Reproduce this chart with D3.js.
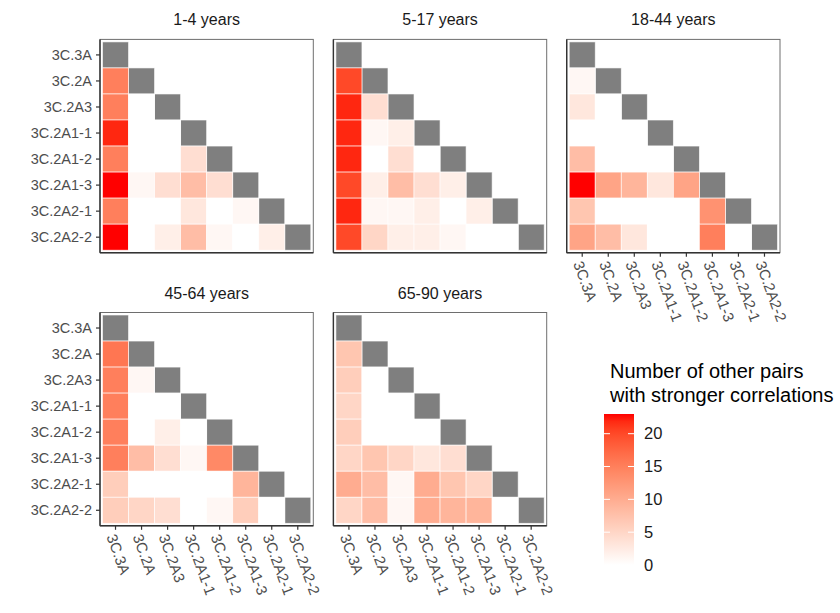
<!DOCTYPE html>
<html>
<head>
<meta charset="utf-8">
<script src="https://cdn.jsdelivr.net/npm/d3@7"></script>
<style>
  html, body { margin: 0; padding: 0; background: #fff; }
  svg { display: block; font-family: "Liberation Sans", Arial, sans-serif; }
</style>
</head>
<body>
<svg id="chart" width="840" height="613"></svg>
<script>
// Strains shown on both axes (rows top-to-bottom, columns left-to-right)
const strains = ["3C.3A", "3C.2A", "3C.2A3", "3C.2A1-1", "3C.2A1-2", "3C.2A1-3", "3C.2A2-1", "3C.2A2-2"];

// Facet labels
const ageGroups = ["1-4 years", "5-17 years", "18-44 years", "45-64 years", "65-90 years"];

// Lower-triangle counts per age group: row i holds columns 0..i-1
const ages1to4 = [
  [15],
  [15, 0],
  [22, 0, 0],
  [15, 0, 0, 4],
  [23, 1, 4, 8, 4],
  [15, 0, 0, 3, 0, 1],
  [23, 0, 2, 8, 1, 0, 2]
];
const ages5to17 = [
  [20],
  [22, 4],
  [22, 1, 2],
  [22, 0, 4, 0],
  [20, 2, 8, 4, 2],
  [22, 1, 1, 2, 0, 2],
  [20, 5, 2, 2, 1, 0, 0]
];
const ages18to44 = [
  [1],
  [3, 0],
  [0, 0, 0],
  [8, 0, 0, 0],
  [23, 11, 9, 3, 11],
  [7, 0, 0, 0, 0, 13],
  [11, 8, 3, 0, 0, 15, 0]
];
const ages45to64 = [
  [16],
  [15, 1],
  [15, 0, 0],
  [15, 0, 2, 0],
  [15, 8, 4, 1, 14],
  [6, 0, 0, 0, 0, 9],
  [6, 5, 4, 0, 1, 6, 0]
];
const ages65to90 = [
  [7],
  [6, 0],
  [5, 0, 0],
  [6, 0, 0, 0],
  [5, 7, 5, 3, 4],
  [10, 8, 1, 10, 7, 5],
  [5, 8, 1, 10, 9, 9, 0]
];
const groupValues = [ages1to4, ages5to17, ages18to44, ages45to64, ages65to90];

// Colour-bar ticks
const legendTicks = [0, 5, 10, 15, 20];
const legendMax = 23;

const svg = d3.select("#chart");
const font = "'Liberation Sans', Arial, sans-serif";

const panelW = 213.3, panelH = 213.3, pad = 2.5;
const colX = [100, 333.4, 566.7];
const rowY = [39.4, 312.5];

const x = d3.scaleBand().domain(strains).range([pad, panelW - pad]);
const y = d3.scaleBand().domain(strains).range([pad, panelH - pad]);
const color = d3.scaleLinear().domain([0, legendMax]).range(["#ffffff", "#ff0000"])
  .interpolate(d3.interpolateLab).clamp(true);

// Panel placement: row, column, whether it carries left / bottom axis labels
const layout = [
  { r: 0, c: 0, left: true,  bottom: false },
  { r: 0, c: 1, left: false, bottom: false },
  { r: 0, c: 2, left: false, bottom: true },
  { r: 1, c: 0, left: true,  bottom: true },
  { r: 1, c: 1, left: false, bottom: true }
];

layout.forEach((p, gi) => {
  const g = svg.append("g").attr("transform", `translate(${colX[p.c]},${rowY[p.r]})`);

  // facet strip text
  svg.append("text")
    .attr("x", colX[p.c] + panelW / 2)
    .attr("y", rowY[p.r] - 14)
    .attr("text-anchor", "middle")
    .attr("font-family", font)
    .attr("font-size", 16)
    .attr("fill", "#1a1a1a")
    .text(ageGroups[gi]);

  // panel background
  g.append("rect").attr("width", panelW).attr("height", panelH).attr("fill", "#fff");

  // build cells: diagonal + lower triangle
  const cells = [];
  strains.forEach((s, i) => {
    cells.push({ row: s, col: s, diag: true, v: null });
    if (i > 0) {
      groupValues[gi][i - 1].forEach((v, j) => {
        cells.push({ row: s, col: strains[j], diag: false, v: v });
      });
    }
  });

  g.selectAll("rect.cell").data(cells).join("rect")
    .attr("class", "cell")
    .attr("x", d => x(d.col))
    .attr("y", d => y(d.row))
    .attr("width", x.bandwidth())
    .attr("height", y.bandwidth())
    .attr("fill", d => d.diag ? "#7f7f7f" : color(d.v))
    .attr("stroke", "#ffffff")
    .attr("stroke-opacity", 0.75)
    .attr("stroke-width", 0.8);

  // panel border
  g.append("rect").attr("width", panelW).attr("height", panelH)
    .attr("fill", "none").attr("stroke", "#6e6e6e").attr("stroke-width", 1);
  // axis lines
  g.append("line").attr("x1", 0).attr("x2", 0).attr("y1", 0).attr("y2", panelH)
    .attr("stroke", "#333").attr("stroke-width", 1.4);
  g.append("line").attr("x1", 0).attr("x2", panelW).attr("y1", panelH).attr("y2", panelH)
    .attr("stroke", "#333").attr("stroke-width", 1.4);

  if (p.left) {
    const ax = g.append("g").call(d3.axisLeft(y).tickSize(4).tickPadding(4));
    ax.select(".domain").remove();
    ax.selectAll("line").attr("stroke", "#333").attr("stroke-width", 1.2);
    ax.selectAll("text").attr("font-family", font).attr("font-size", 14.5).attr("fill", "#4d4d4d");
  }
  if (p.bottom) {
    const ax = g.append("g").attr("transform", `translate(0,${panelH})`)
      .call(d3.axisBottom(x).tickSize(4).tickPadding(4));
    ax.select(".domain").remove();
    ax.selectAll("line").attr("stroke", "#333").attr("stroke-width", 1.2);
    ax.selectAll("text")
      .attr("font-family", font).attr("font-size", 15).attr("fill", "#4d4d4d")
      .attr("x", 0).attr("y", 0).attr("dy", "0.72em")
      .attr("text-anchor", "start")
      .attr("transform", "translate(1,7) rotate(70)");
  }
});

// ---- legend ----
const lg = svg.append("g").attr("transform", "translate(604,414)");
const barW = 30, barH = 151;
const lScale = d3.scaleLinear().domain([0, legendMax]).range([barH, 0]);

svg.append("text").attr("x", 610).attr("y", 378)
  .attr("font-family", font).attr("font-size", 20).attr("fill", "#000")
  .text("Number of other pairs");
svg.append("text").attr("x", 610).attr("y", 402)
  .attr("font-family", font).attr("font-size", 20).attr("fill", "#000")
  .text("with stronger correlations");

const defs = svg.append("defs");
const grad = defs.append("linearGradient").attr("id", "legendGrad")
  .attr("x1", 0).attr("y1", 1).attr("x2", 0).attr("y2", 0);
d3.range(0, 1.0001, 0.05).forEach(t => {
  grad.append("stop").attr("offset", t).attr("stop-color", color(t * legendMax));
});
lg.append("rect").attr("width", barW).attr("height", barH).attr("fill", "url(#legendGrad)");

lg.selectAll("line.tl").data(legendTicks.filter(d => d > 0)).join("line")
  .attr("x1", 0).attr("x2", barW / 5)
  .attr("y1", d => lScale(d)).attr("y2", d => lScale(d))
  .attr("stroke", "#fff").attr("stroke-width", 1);
lg.selectAll("line.tr").data(legendTicks.filter(d => d > 0)).join("line")
  .attr("x1", barW - barW / 5).attr("x2", barW)
  .attr("y1", d => lScale(d)).attr("y2", d => lScale(d))
  .attr("stroke", "#fff").attr("stroke-width", 1);

lg.selectAll("text.tick").data(legendTicks).join("text")
  .attr("x", barW + 10)
  .attr("y", d => lScale(d))
  .attr("dy", "0.35em")
  .attr("font-family", font).attr("font-size", 16.5).attr("fill", "#1a1a1a")
  .text(d => d);
</script>
</body>
</html>
